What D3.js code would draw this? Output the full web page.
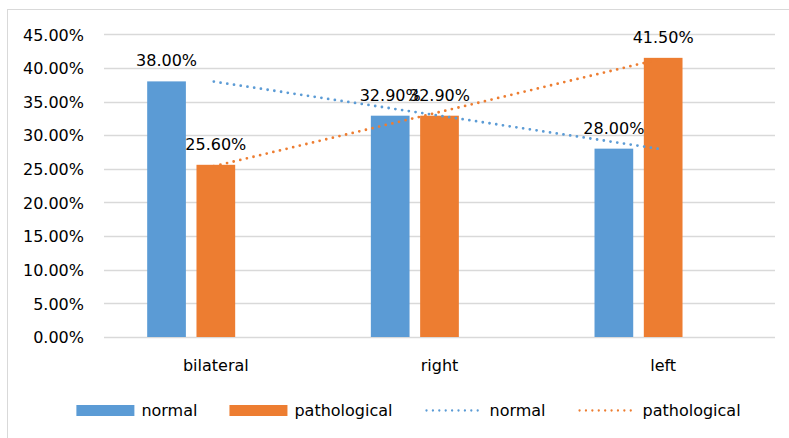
<!DOCTYPE html>
<html><head><meta charset="utf-8">
<script src="https://cdn.jsdelivr.net/npm/d3@7"></script>
<style>html,body{margin:0;padding:0;background:#fff;}svg{display:block;}</style>
</head><body>
<script>
const categories = ["bilateral", "right", "left"];
const normalValues = [0.38, 0.329, 0.28];
const pathologicalValues = [0.256, 0.329, 0.415];
const seriesNames = ["normal", "pathological"];
const yTicks = [0, 0.05, 0.10, 0.15, 0.20, 0.25, 0.30, 0.35, 0.40, 0.45];

const W = 789, H = 438;
const colors = {normal: "#5B9BD5", pathological: "#ED7D31"};
const FONT = "'DejaVu Sans', sans-serif";

const svg = d3.select("body").append("svg").attr("width", W).attr("height", H);
svg.append("rect").attr("x", 7.5).attr("y", 9.5).attr("width", 800).attr("height", 500)
  .attr("fill", "#fff").attr("stroke", "#D9D9D9").attr("stroke-width", 1);

const plot = {left: 104, right: 775, top: 34.3, bottom: 337};
const x = d3.scaleBand().domain(categories).range([plot.left, plot.right]).padding(0);
const y = d3.scaleLinear().domain([0, 0.45]).range([plot.bottom, plot.top]);
// third (empty) slot reproduces the original's offset clustering
const xs = d3.scaleBand().domain(["normal", "pathological", "_"]).range([-74, 74])
  .paddingInner(0.215).paddingOuter(0.1085);

// gridlines
svg.append("g").selectAll("line").data(yTicks).join("line")
  .attr("x1", plot.left).attr("x2", plot.right)
  .attr("y1", d => Math.round(y(d)) + 0.5).attr("y2", d => Math.round(y(d)) + 0.5)
  .attr("stroke", "#D9D9D9").attr("stroke-width", 1.3);

// y-axis labels
const yAxis = d3.axisLeft(y).tickValues(yTicks).tickFormat(d3.format(".2%")).tickSize(0).tickPadding(0);
const ya = svg.append("g").attr("transform", `translate(84,0)`).call(yAxis);
ya.select(".domain").remove();
ya.selectAll("text").attr("font-family", FONT).attr("font-size", 16).attr("fill", "#000").attr("dy", "0.36em");

// x-axis labels
const xAxis = d3.axisBottom(x).tickSize(0).tickPadding(0);
const xa = svg.append("g").attr("transform", `translate(0,${plot.bottom})`).call(xAxis);
xa.select(".domain").remove();
xa.selectAll("text").attr("font-family", FONT).attr("font-size", 16).attr("fill", "#000")
  .attr("dy", null).attr("y", 34);

// bars
const data = [];
categories.forEach((c, i) => {
  data.push({cat: c, s: "normal", v: normalValues[i]});
  data.push({cat: c, s: "pathological", v: pathologicalValues[i]});
});
const cx = d => x(d.cat) + x.bandwidth() / 2 + xs(d.s);
svg.append("g").selectAll("rect").data(data).join("rect")
  .attr("x", d => cx(d)).attr("width", xs.bandwidth())
  .attr("y", d => y(d.v)).attr("height", d => y(0) - y(d.v))
  .attr("fill", d => colors[d.s]);

// linear trendlines (least squares over category index)
function fit(vals) {
  const xsV = vals.map((_, i) => i + 1);
  const mx = d3.mean(xsV), my = d3.mean(vals);
  const b = d3.sum(xsV.map((xv, i) => (xv - mx) * (vals[i] - my))) / d3.sum(xsV.map(xv => (xv - mx) ** 2));
  const a = my - b * mx;
  return xsV.map(xv => a + b * xv);
}
[["normal", normalValues], ["pathological", pathologicalValues]].forEach(([s, vals]) => {
  const f = fit(vals);
  const pts = [[x(categories[0]) + x.bandwidth() / 2 - 2, y(f[0])],
               [x(categories[categories.length - 1]) + x.bandwidth() / 2 - 4, y(f[f.length - 1])]];
  svg.append("path").attr("d", d3.line()(pts)).attr("fill", "none")
    .attr("stroke", colors[s]).attr("stroke-width", 2.8).attr("stroke-linecap", "round")
    .attr("stroke-dasharray", "0 6.8");
});

// data labels
svg.append("g").selectAll("text").data(data).join("text")
  .attr("x", d => cx(d) + xs.bandwidth() / 2).attr("y", d => y(d.v) - 15)
  .attr("text-anchor", "middle").attr("font-family", FONT).attr("font-size", 16).attr("fill", "#000")
  .text(d => d3.format(".2%")(d.v));

// legend
const legendItems = [
  {label: "normal", s: "normal", type: "bar"},
  {label: "pathological", s: "pathological", type: "bar"},
  {label: "normal", s: "normal", type: "dot"},
  {label: "pathological", s: "pathological", type: "dot"}
];
const lg = svg.append("g");
let lx = 0;
const ly = 416, gap = 32;
legendItems.forEach((it) => {
  const g = lg.append("g").attr("transform", `translate(${lx},0)`);
  if (it.type === "bar") {
    g.append("rect").attr("x", 0).attr("y", ly - 11).attr("width", 58).attr("height", 11).attr("fill", colors[it.s]);
  } else {
    g.append("line").attr("x1", 2).attr("x2", 58).attr("y1", ly - 5.5).attr("y2", ly - 5.5)
      .attr("stroke", colors[it.s]).attr("stroke-width", 2.3).attr("stroke-linecap", "round")
      .attr("stroke-dasharray", "0 6.4");
  }
  const t = g.append("text").attr("x", 65).attr("y", ly).attr("font-family", FONT).attr("font-size", 16)
    .attr("fill", "#000").text(it.label);
  lx += 65 + t.node().getComputedTextLength() + gap;
});
const lw = lx - gap;
lg.attr("transform", `translate(${408.5 - lw / 2},0)`);
</script>
</body></html>
